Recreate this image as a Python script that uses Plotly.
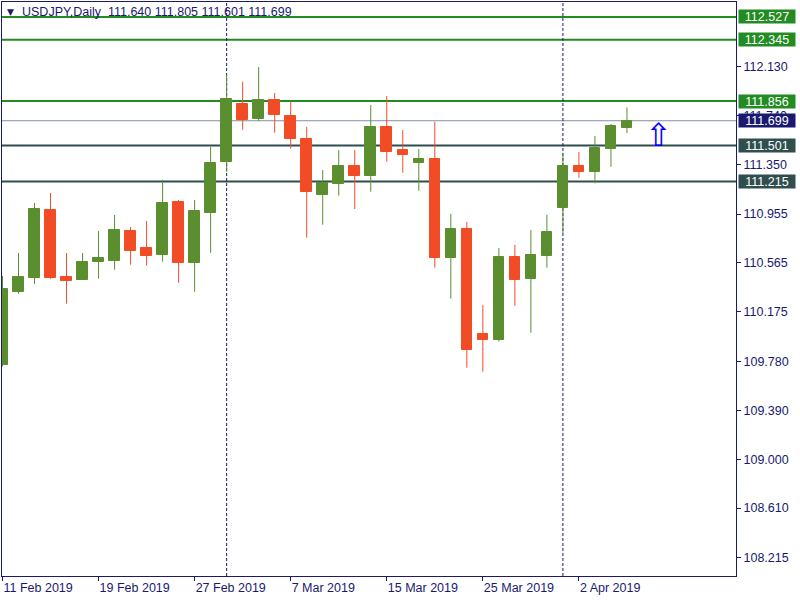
import plotly.graph_objects as go
import pandas as pd

# ---------------- data ----------------
symbol_title = "USDJPY,Daily"
header_ohlc = ["111.640", "111.805", "111.601", "111.699"]

opens = [109.751, 110.333, 110.447, 110.987, 110.453, 110.431, 110.575, 110.583, 110.819, 110.684,
         110.630, 111.051, 110.567, 110.965, 111.372, 111.832, 111.715, 111.864, 111.736, 111.555,
         111.109, 111.197, 111.338, 111.260, 111.649, 111.465, 111.364, 111.394, 110.607, 110.835,
         110.000, 109.953, 110.612, 110.439, 110.622, 111.005, 111.338, 111.292, 111.476, 111.640]
highs = [110.461, 110.644, 111.043, 111.122, 110.644, 110.644, 110.819, 110.947, 110.851, 110.899,
         111.226, 111.067, 111.067, 111.492, 112.071, 112.010, 112.127, 111.920, 111.856, 111.651,
         111.306, 111.465, 111.465, 111.824, 111.896, 111.625, 111.473, 111.691, 110.957, 110.891,
         110.229, 110.684, 110.708, 110.827, 110.949, 111.444, 111.449, 111.577, 111.673, 111.805]
lows = [109.740, 110.319, 110.399, 110.439, 110.240, 110.428, 110.439, 110.511, 110.551, 110.543,
        110.575, 110.407, 110.335, 110.646, 111.292, 111.627, 111.699, 111.603, 111.476, 110.766,
        110.870, 111.101, 110.995, 111.133, 111.372, 111.284, 111.141, 110.527, 110.280, 109.729,
        109.697, 109.937, 110.224, 110.008, 110.527, 110.801, 111.244, 111.200, 111.332, 111.601]
closes = [110.357, 110.453, 110.995, 110.447, 110.423, 110.572, 110.604, 110.827, 110.662, 110.622,
          111.043, 110.567, 110.979, 111.362, 111.872, 111.707, 111.864, 111.747, 111.555, 111.133,
          111.205, 111.338, 111.260, 111.649, 111.452, 111.428, 111.394, 110.607, 110.835, 109.873,
          109.953, 110.612, 110.431, 110.628, 110.811, 111.338, 111.292, 111.481, 111.657, 111.699]

first_day, last_day = "2019-02-11", "2019-04-05"
tick_labels = ["11 Feb 2019", "19 Feb 2019", "27 Feb 2019", "7 Mar 2019",
               "15 Mar 2019", "25 Mar 2019", "2 Apr 2019"]

price_ticks = [112.130, 111.740, 111.350, 110.955, 110.565, 110.175,
               109.780, 109.390, 109.000, 108.610, 108.215]

levels = [112.527, 112.345, 111.856, 111.501, 111.215]
level_colors = ["#228B22", "#228B22", "#228B22", "#2F4F4F", "#2F4F4F"]

signal_bar = 41          # position of the buy-arrow (bar index)
signal_price = 111.585

# ---------------- styling ----------------
UP = "#5B8E2F"
DN = "#F24C26"
NAVY = "#191970"
FONT = "Liberation Sans"
FS = 12.5

days = pd.bdate_range(first_day, last_day)
date_labels = [f"{d.day} {d.strftime('%b %Y')}" for d in days]
xs = list(range(len(days)))
tickvals = [date_labels.index(t) for t in tick_labels]
separators = [i for i in xs[1:] if days[i].month != days[i - 1].month]

fig = go.Figure()

# wicks
for col, sel in ((UP, lambda o, c: c >= o), (DN, lambda o, c: c < o)):
    wx, wy = [], []
    for i, o, h, l, c in zip(xs, opens, highs, lows, closes):
        if sel(o, c):
            wx += [i, i, None]
            wy += [l, h, None]
    fig.add_trace(go.Scatter(x=wx, y=wy, mode="lines", line=dict(color=col, width=1),
                             hoverinfo="skip", showlegend=False))

# bodies
for col, sel in ((UP, lambda o, c: c >= o), (DN, lambda o, c: c < o)):
    bx, bb, bh = [], [], []
    for i, o, c in zip(xs, opens, closes):
        if sel(o, c):
            bx.append(i)
            bb.append(min(o, c))
            bh.append(max(abs(c - o), 0.004))
    fig.add_trace(go.Bar(x=bx, y=bh, base=bb, width=0.66,
                         marker=dict(color=col, line=dict(color=col, width=1)),
                         hoverinfo="skip", showlegend=False))

shapes = []
for lv, lc in zip(levels, level_colors):
    shapes.append(dict(type="line", xref="paper", x0=0, x1=1, yref="y", y0=lv, y1=lv,
                       line=dict(color=lc, width=2), layer="below"))
shapes.append(dict(type="line", xref="paper", x0=0, x1=1, yref="y", y0=closes[-1], y1=closes[-1],
                   line=dict(color="#8090A0", width=1), layer="below"))
for s in separators:
    shapes.append(dict(type="line", xref="x", x0=s, x1=s, yref="paper", y0=0, y1=1,
                       line=dict(color=NAVY, width=1, dash="3px,2px"), layer="below"))

annotations = []
for lv, lc in zip(levels, level_colors):
    annotations.append(dict(xref="paper", x=1, xanchor="left", xshift=2, yref="y", y=lv,
                            yanchor="middle", text=f"{lv:.3f}", showarrow=False,
                            bgcolor=lc, width=56, height=13, borderpad=0, align="center",
                            font=dict(family=FONT, size=FS, color="white")))
annotations.append(dict(xref="paper", x=1, xanchor="left", xshift=2, yref="y", y=closes[-1],
                        yanchor="middle", text=f"{closes[-1]:.3f}", showarrow=False,
                        bgcolor=NAVY, width=56, height=13, borderpad=0, align="center",
                        font=dict(family=FONT, size=FS, color="white")))
annotations.append(dict(xref="paper", x=0, xanchor="left", xshift=18, yref="paper", y=1,
                        yanchor="top", yshift=-1,
                        text=symbol_title + "  " + " ".join(header_ohlc), showarrow=False,
                        font=dict(family=FONT, size=FS, color=NAVY)))
annotations.append(dict(xref="paper", x=0, xanchor="left", xshift=3, yref="paper", y=1,
                        yanchor="top", yshift=-3, text="▼", showarrow=False,
                        font=dict(family="DejaVu Sans", size=9, color=NAVY)))
annotations.append(dict(xref="x", x=signal_bar, yref="y", y=signal_price, text="⇧",
                        showarrow=False, font=dict(family="DejaVu Sans", size=32, color="#0000FF")))

fig.update_layout(
    width=800, height=600,
    margin=dict(l=2, r=64, t=2, b=24),
    paper_bgcolor="white", plot_bgcolor="white",
    barmode="overlay", bargap=0,
    shapes=shapes, annotations=annotations,
    showlegend=False,
    font=dict(family=FONT, size=FS, color=NAVY),
    xaxis=dict(range=[-0.03, 45.81], tickvals=tickvals, ticktext=tick_labels,
               ticks="outside", ticklen=4, tickcolor=NAVY, ticklabelposition="outside right",
               showgrid=False, zeroline=False, showline=True, mirror=True,
               linecolor=NAVY, linewidth=1, tickfont=dict(family=FONT, size=FS, color=NAVY)),
    yaxis=dict(side="right", range=[108.068, 112.646], tickvals=price_ticks,
               ticktext=[f"{t:.3f}" for t in price_ticks],
               ticks="outside", ticklen=4, tickcolor=NAVY,
               showgrid=False, zeroline=False, showline=True, mirror=True,
               linecolor=NAVY, linewidth=1, tickfont=dict(family=FONT, size=FS, color=NAVY)),
)

fig.write_html("out.html", config={"displayModeBar": False},
               post_script="document.body.style.margin='0';")
